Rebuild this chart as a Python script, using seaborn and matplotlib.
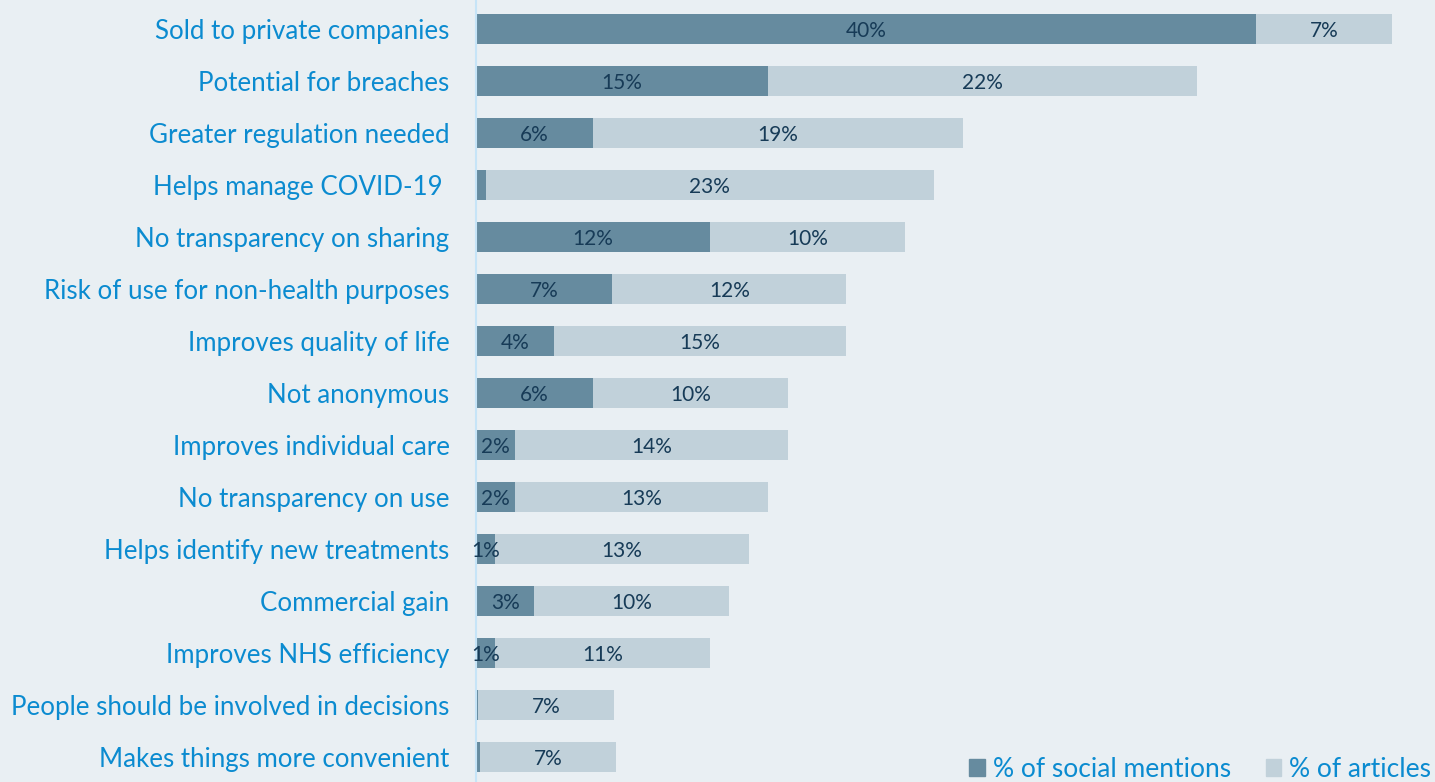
import matplotlib
matplotlib.use("Agg")
import matplotlib.pyplot as plt
import seaborn as sns
import pandas as pd
from matplotlib.patches import Patch

categories = [
    "Sold to private companies",
    "Potential for breaches",
    "Greater regulation needed",
    "Helps manage COVID-19 ",
    "No transparency on sharing",
    "Risk of use for non-health purposes",
    "Improves quality of life",
    "Not anonymous",
    "Improves individual care",
    "No transparency on use",
    "Helps identify new treatments",
    "Commercial gain",
    "Improves NHS efficiency",
    "People should be involved in decisions",
    "Makes things more convenient",
]
social = [40, 15, 6, 0.5, 12, 7, 4, 6, 2, 2, 1, 3, 1, 0.1, 0.2]
articles = [7, 22, 19, 23, 10, 12, 15, 10, 14, 13, 13, 10, 11, 7, 7]
social_labels = ["40%", "15%", "6%", "", "12%", "7%", "4%", "6%", "2%", "2%",
                 "1%", "3%", "1%", "", ""]
article_labels = ["7%", "22%", "19%", "23%", "10%", "12%", "15%", "10%", "14%",
                  "13%", "13%", "10%", "11%", "7%", "7%"]

df = pd.DataFrame({"category": categories, "social": social, "articles": articles})
df["total"] = df["social"] + df["articles"]

BG = "#e9eff3"
DARK = "#668b9f"
LIGHT = "#c1d1da"
LABEL_BLUE = "#0b8bd0"
VALUE_TEXT = "#173b57"

sns.set_theme(style="white")
plt.rcParams["font.family"] = ["Lato", "DejaVu Sans"]

fig = plt.figure(figsize=(14.35, 7.82), dpi=100, facecolor=BG)
ax = fig.add_axes([476 / 1435, 0.0, 1 - 476 / 1435, 1.0])
ax.set_facecolor(BG)

sns.barplot(data=df, y="category", x="total", color=LIGHT, saturation=1,
            width=0.58, linewidth=0, ax=ax, orient="h")
sns.barplot(data=df, y="category", x="social", color=DARK, saturation=1,
            width=0.58, linewidth=0, ax=ax, orient="h")

for i, (s, a, sl, al) in enumerate(zip(social, articles, social_labels, article_labels)):
    if sl:
        ax.text(s / 2, i + 0.03, sl, ha="center", va="center", fontsize=15, color=VALUE_TEXT)
    if al:
        ax.text(s + a / 2, i + 0.03, al, ha="center", va="center", fontsize=15, color=VALUE_TEXT)

ax.set_xlim(0, 49.2)
ax.set_ylim(14.48, -0.558)
ax.set_xlabel("")
ax.set_ylabel("")
ax.set_xticks([])
ax.tick_params(axis="y", length=0, pad=19, labelsize=18.6, labelcolor=LABEL_BLUE)
for side in ["top", "right", "bottom"]:
    ax.spines[side].set_visible(False)
ax.spines["left"].set_color("#c6e4f7")
ax.spines["left"].set_linewidth(1.5)

handles = [Patch(color=DARK, label="% of social mentions"),
           Patch(color=LIGHT, label="% of articles")]
leg = fig.legend(handles=handles, loc="lower right", bbox_to_anchor=(1.014, -0.03),
                 ncol=2, frameon=False, fontsize=19, handlelength=0.6,
                 handleheight=0.6, handletextpad=0.3, columnspacing=1.3)
for t in leg.get_texts():
    t.set_color(LABEL_BLUE)

fig.savefig("out.png", dpi=100, facecolor=BG)
